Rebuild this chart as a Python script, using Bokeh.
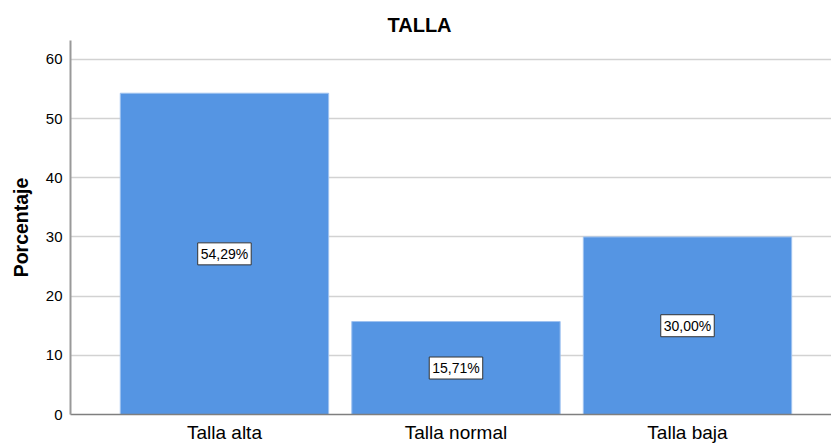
from bokeh.plotting import figure
from bokeh.models import ColumnDataSource, Range1d, FixedTicker, Title
from bokeh.core.properties import value
from bokeh.embed import file_html
from bokeh.resources import INLINE

# Distribution of height categories (percent)
categorias = ["Talla alta", "Talla normal", "Talla baja"]
porcentajes = [54.29, 15.71, 30.00]
ticks_y = [0, 10, 20, 30, 40, 50, 60]

FONT = "Liberation Sans"
BAR_COLOR = "#5595E3"

posiciones = list(range(len(categorias)))
etiquetas = [f"{v:.2f}".replace(".", ",") + "%" for v in porcentajes]
source = ColumnDataSource(dict(
    x=posiciones,
    top=porcentajes,
    mid=[v / 2 for v in porcentajes],
    label=etiquetas,
))

p = figure(
    width=831, height=445,
    x_range=Range1d(-0.665, 2.622),
    y_range=Range1d(0, 63.2),
    output_backend="svg",
    toolbar_location=None,
    min_border_left=70, min_border_right=0,
    min_border_top=40, min_border_bottom=31,
)
p.outline_line_color = None
p.background_fill_color = "white"
p.border_fill_color = "white"

p.title = Title(text="TALLA", align="left", offset=317,
                text_font=FONT, text_font_size="20px",
                text_font_style="bold", text_color="#000000", standoff=10)

p.vbar(x="x", top="top", bottom=0, width=0.9, source=source,
       fill_color=BAR_COLOR, line_color="#9fc2f0", line_width=1)

# value labels in boxed text, centred on each bar
p.text(x="x", y="mid", text="label", source=source,
       text_align="center", text_baseline="middle",
       text_font=value(FONT), text_font_size="14px", text_color="#000000",
       background_fill_color="white", border_line_color="#333333",
       border_line_width=1, padding=3)

# x axis
p.xaxis.ticker = FixedTicker(ticks=posiciones)
p.xaxis.major_label_overrides = {i: c for i, c in zip(posiciones, categorias)}
p.xaxis.major_label_text_font = FONT
p.xaxis.major_label_text_font_size = "19px"
p.xaxis.major_label_text_color = "#000000"
p.xaxis.major_label_standoff = 7
p.xaxis.major_tick_out = 0
p.xaxis.major_tick_in = 0
p.xaxis.major_tick_line_color = None
p.xaxis.minor_tick_line_color = None
p.xaxis.axis_line_color = "#7f7f7f"
p.xaxis.axis_line_width = 1.5

# y axis
p.yaxis.ticker = FixedTicker(ticks=ticks_y)
p.yaxis.axis_label = "Porcentaje"
p.yaxis.axis_label_text_font = FONT
p.yaxis.axis_label_text_font_size = "19.5px"
p.yaxis.axis_label_text_font_style = "bold"
p.yaxis.axis_label_text_color = "#000000"
p.yaxis.axis_label_standoff = 11
p.yaxis.major_label_text_font = FONT
p.yaxis.major_label_text_font_size = "15px"
p.yaxis.major_label_text_color = "#000000"
p.yaxis.major_label_standoff = 8
p.yaxis.major_tick_out = 0
p.yaxis.major_tick_in = 0
p.yaxis.major_tick_line_color = None
p.yaxis.minor_tick_line_color = None
p.yaxis.axis_line_color = "#999999"
p.yaxis.axis_line_width = 2

p.xgrid.grid_line_color = None
p.ygrid.ticker = FixedTicker(ticks=ticks_y[1:])
p.ygrid.grid_line_color = "#d2d2d2"
p.ygrid.grid_line_width = 1.5

open("out.html", "w").write(file_html(p, INLINE))
